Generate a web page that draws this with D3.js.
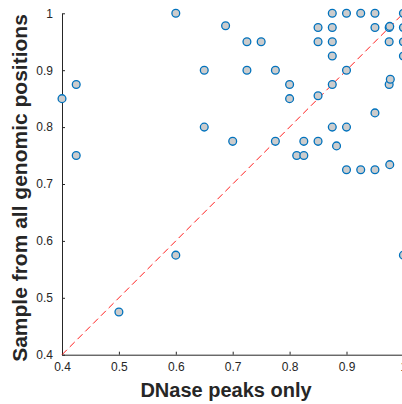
<!DOCTYPE html>
<html>
<head>
<meta charset="utf-8">
<script src="https://cdn.jsdelivr.net/npm/d3@7"></script>
<style>
  body { margin: 0; background: #fff; }
  svg { display: block; font-family: "Liberation Sans", Arial, sans-serif; }
  .tick text { fill: #262626; font-size: 12px; }
</style>
</head>
<body>
<div id="chart"></div>
<script>
// x = DNase peaks only, y = sample from all genomic positions
var xVals = [0.4, 0.425, 0.425, 0.5, 0.6, 0.6, 0.65, 0.65, 0.6875, 0.7, 0.725, 0.725, 0.75,
  0.775, 0.775, 0.8, 0.8, 0.8125, 0.825, 0.825, 0.85, 0.85, 0.85, 0.85, 0.875, 0.875, 0.875,
  0.875, 0.875, 0.875, 0.8825, 0.9, 0.9, 0.9, 0.9, 0.925, 0.925, 0.95, 0.95, 0.95, 0.95,
  0.975, 0.976, 0.975, 0.975, 0.977, 0.976, 1, 1, 1, 1, 1];
var yVals = [0.85, 0.875, 0.75, 0.475, 1, 0.575, 0.9, 0.8, 0.978, 0.775, 0.95, 0.9, 0.95,
  0.9, 0.775, 0.875, 0.85, 0.75, 0.775, 0.75, 0.975, 0.95, 0.855, 0.775, 1, 0.975, 0.95,
  0.925, 0.875, 0.8, 0.767, 1, 0.9, 0.8, 0.725, 1, 0.725, 1, 0.975, 0.825, 0.725,
  0.975, 0.977, 0.95, 0.875, 0.884, 0.734, 1, 0.975, 0.95, 0.925, 0.575];
var tickVals = [0.4, 0.5, 0.6, 0.7, 0.8, 0.9, 1];

var svgWidth = 402;
var svgHeight = 404;
var margin = { top: 13.3, left: 62 };
var plotW = 341.4;
var plotH = 341.4;

var svg = d3.select("#chart")
  .append("svg")
  .attr("width", svgWidth)
  .attr("height", svgHeight);

var x = d3.scaleLinear().domain([0.4, 1]).range([margin.left, margin.left + plotW]);
var y = d3.scaleLinear().domain([0.4, 1]).range([margin.top + plotH, margin.top]);

var fmt = d => d === 1 ? "1" : d3.format(".1f")(d);

// axes, ticks point inward
var xAxis = svg.append("g")
  .attr("transform", `translate(0, ${margin.top + plotH})`)
  .call(d3.axisBottom(x).tickValues(tickVals).tickFormat(fmt).tickSizeInner(-3).tickSizeOuter(0).tickPadding(8));

var yAxis = svg.append("g")
  .attr("transform", `translate(${margin.left}, 0)`)
  .call(d3.axisLeft(y).tickValues(tickVals).tickFormat(fmt).tickSizeInner(-3).tickSizeOuter(0).tickPadding(9));

svg.selectAll(".domain, .tick line").attr("stroke", "#262626").attr("stroke-width", 1);

// diagonal reference line
svg.append("line")
  .attr("x1", x(0.4)).attr("y1", y(0.4))
  .attr("x2", x(1)).attr("y2", y(1))
  .attr("stroke", "#ff1f1f")
  .attr("stroke-width", 1)
  .attr("stroke-dasharray", "7,4");

// points
svg.append("g")
  .selectAll("circle")
  .data(xVals)
  .enter()
  .append("circle")
  .attr("cx", (d, i) => x(d))
  .attr("cy", (d, i) => y(yVals[i]))
  .attr("r", 3.9)
  .attr("fill", "#cccccc")
  .attr("stroke", "#0072bd")
  .attr("stroke-width", 1.3);

// axis labels
svg.append("text")
  .attr("x", 226)
  .attr("y", 397)
  .attr("text-anchor", "middle")
  .attr("font-size", "20px")
  .attr("font-weight", "bold")
  .attr("fill", "#262626")
  .text("DNase peaks only");

svg.append("text")
  .attr("transform", "translate(27, 188) rotate(-90)")
  .attr("text-anchor", "middle")
  .attr("font-size", "21px")
  .attr("font-weight", "bold")
  .attr("fill", "#262626")
  .text("Sample from all genomic positions");
</script>
</body>
</html>
